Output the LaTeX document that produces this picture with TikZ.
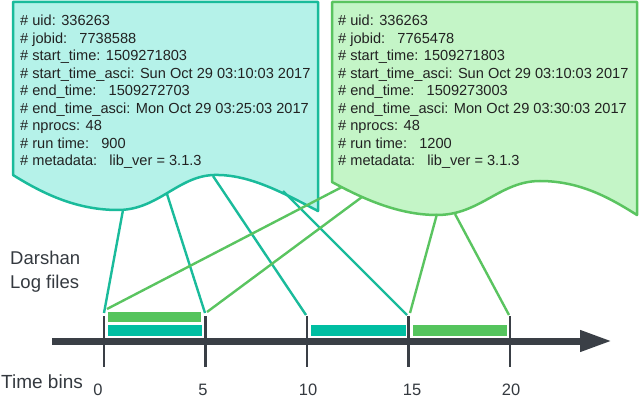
\documentclass[tikz,border=0pt]{standalone}
\usepackage{fontspec}
\setmainfont{Liberation Sans}
\usetikzlibrary{arrows.meta}
\definecolor{cyanfill}{HTML}{B5F2E9}
\definecolor{cyanedge}{HTML}{1ABB9B}
\definecolor{cyanbar}{HTML}{00BEA2}
\definecolor{greenfill}{HTML}{C4F5C7}
\definecolor{greenedge}{HTML}{5AC460}
\definecolor{greenbar}{HTML}{55C45D}
\definecolor{axisgray}{HTML}{3A3F46}
\definecolor{txt}{HTML}{222222}
\tikzset{
  docA/.style={fill=cyanfill,draw=cyanedge,line width=2.5pt,line join=round},
  docB/.style={fill=greenfill,draw=greenedge,line width=2.5pt,line join=round},
  linkA/.style={draw=cyanedge,line width=2.4pt},
  linkB/.style={draw=greenedge,line width=2.4pt},
  doctext/.style={inner sep=0pt,anchor=base west,text=txt,font=\fontsize{14.6}{17.5}\selectfont},
  lbl/.style={inner sep=0pt,text=axisgray!90!black,font=\fontsize{18.5}{22}\selectfont},
  num/.style={inner sep=0pt,anchor=base,text=axisgray!90!black,font=\fontsize{16.5}{20}\selectfont},
  tickline/.style={draw=axisgray,line width=2.5pt},
  barA/.style={fill=cyanbar,draw=white,line width=0.8pt},
  barB/.style={fill=greenbar,draw=white,line width=0.8pt},
}
\begin{document}
\begin{tikzpicture}[x=1pt,y=-1pt]
\useasboundingbox (0,0) rectangle (640,398);
% documents
\draw[docA] (13,2) -- (318,2) -- (318,211)
  .. controls (285,194) and (250,174) .. (214,175)
  .. controls (178,176) and (158,210) .. (118,210)
  .. controls (78,210) and (45,195) .. (13,175) -- cycle;
\draw[docB] (332,2) -- (637,2) -- (637,215)
  .. controls (610,198) and (580,181) .. (540,181)
  .. controls (500,181) and (480,215) .. (437,215)
  .. controls (400,215) and (365,200) .. (332,182) -- cycle;
\foreach \t [count=\i] in {{\# uid: 336263},{\# jobid:\ \ \ 7738588},{\# start\_time: 1509271803},{\# start\_time\_asci: Sun Oct 29 03:10:03 2017},{\# end\_time:\ \ \ 1509272703},{\# end\_time\_asci: Mon Oct 29 03:25:03 2017},{\# nprocs: 48},{\# run time:\ \ \ 900},{\# metadata:\ \ \ lib\_ver = 3.1.3}}
  \node[doctext] (la\i) at ({20},{25.5+17.55*(\i-1)}) {\t};
\foreach \t [count=\i] in {{\# uid: 336263},{\# jobid:\ \ \ 7765478},{\# start\_time: 1509271803},{\# start\_time\_asci: Sun Oct 29 03:10:03 2017},{\# end\_time:\ \ \ 1509273003},{\# end\_time\_asci: Mon Oct 29 03:30:03 2017},{\# nprocs: 48},{\# run time:\ \ \ 1200},{\# metadata:\ \ \ lib\_ver = 3.1.3}}
  \node[doctext] (ra\i) at ({338},{25.5+17.55*(\i-1)}) {\t};
% coordinates
\coordinate (a1) at (123,210);
\coordinate (a2) at (167,194);
\coordinate (a3) at (213,176);
\coordinate (a4) at (283,191);
\coordinate (b1) at (342,187);
\coordinate (b2) at (362,197);
\coordinate (b3) at (437,214);
\coordinate (b4) at (455,214);
\coordinate (p0) at (104,313);
\coordinate (p1) at (205,313);
\coordinate (p2) at (306,315);
\coordinate (p3) at (407,315);
\coordinate (q0) at (107,309);
\coordinate (q1) at (207,312);
\coordinate (q2) at (410,313);
\coordinate (q3) at (509,315);
% links
\draw[linkA] (a1) -- (p0);
\draw[linkA] (a2) -- (p1);
\draw[linkA] (a3) -- (p2);
\draw[linkA] (a4) -- (p3);
\draw[linkB] (b1) -- (q0);
\draw[linkB] (b2) -- (q1);
\draw[linkB] (b3) -- (q2);
\draw[linkB] (b4) -- (q3);
% bars
\draw[barB] (107,311) rectangle (201,322);
\draw[barA] (107,324) rectangle (202,336);
\draw[barA] (310,324) rectangle (406,336);
\draw[barB] (412,324) rectangle (507,336);
% axis
\coordinate (ax0) at (52,341);
\coordinate (ax1) at (612,341);
\draw[draw=axisgray,line width=7pt,-{Triangle[length=32pt,width=20pt]}] (ax0) -- (ax1);
\foreach \x in {104,205.5,307,408.5,510}
  \draw[tickline] (\x,316) -- (\x,367);
% labels
\node[lbl,anchor=base west] (dar) at (10,265) {Darshan};
\node[lbl,anchor=base west] (log) at (10,288) {Log files};
\node[lbl,anchor=base west,font=\fontsize{19}{22}\selectfont] (tb) at (1,388) {Time bins};
\node[num] (n0) at (98,395.3) {0};
\node[num] (n5) at (203,395.3) {5};
\node[num] (n10) at (308,395.3) {10};
\node[num] (n15) at (412,395.3) {15};
\node[num] (n20) at (511,395.3) {20};
\end{tikzpicture}
\end{document}
